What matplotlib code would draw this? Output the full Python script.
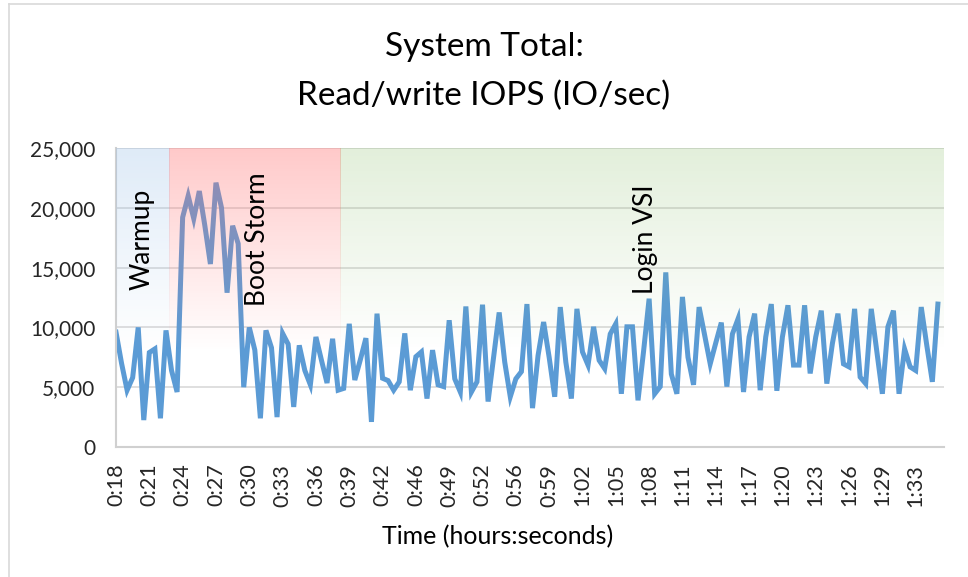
import numpy as np
import matplotlib
matplotlib.use("Agg")
import matplotlib.pyplot as plt
from matplotlib.lines import Line2D
from matplotlib.ticker import FuncFormatter

plt.rcParams['font.family'] = ['Lato', 'DejaVu Sans']

# ---- data ----
iops = [9600, 7000, 4750, 5800, 10000, 2250, 7900, 8200, 2400, 9750,
        6400, 4600, 19200, 21000, 19100, 21400, 18500, 15300, 22100, 20000,
        12900, 18500, 17000, 5000, 10000, 8100, 2400, 9750, 8300, 2500,
        9500, 8600, 3350, 8500, 6400, 5200, 9200, 7250, 5350, 9050,
        4750, 4900, 10300, 5600, 7300, 9100, 2100, 11150, 5750, 5550,
        4750, 5450, 9500, 4750, 7550, 7950, 4050, 8100, 5200, 5050,
        10600, 5700, 4600, 11750, 4600, 5450, 11900, 3800, 7500, 11250,
        7100, 4200, 5700, 6300, 11950, 3250, 7650, 10450, 7500, 4200,
        11700, 7100, 4050, 11550, 7950, 6850, 10050, 7250, 6550, 9450,
        10300, 4450, 10050, 10050, 3900, 8000, 12400, 4450, 5050, 14600,
        6100, 4450, 12550, 7500, 5200, 11700, 9350, 6950, 8700, 10400,
        5050, 9450, 10700, 4600, 9200, 11150, 4750, 9200, 11950, 4700,
        9200, 11850, 6850, 6850, 11850, 6150, 9200, 11400, 5300, 8650,
        11150, 6950, 6700, 11550, 5850, 5300, 11550, 8000, 4450, 10050,
        11400, 4450, 8200, 6700, 6400, 11700, 8500, 5450, 11950]

tick_labels = ["0:18", "0:21", "0:24", "0:27", "0:30", "0:33", "0:36", "0:39",
               "0:42", "0:46", "0:49", "0:52", "0:56", "0:59", "1:02", "1:05",
               "1:08", "1:11", "1:14", "1:17", "1:20", "1:23", "1:26", "1:29",
               "1:33"]
label_every = 6

phases = ["Warmup", "Boot Storm", "Login VSI"]
phase_start = [0, 9.55, 40.4]
phase_end = [9.55, 40.4, 149.0]
phase_label_x = [4.7, 25.5, 95.3]

# ---- figure ----
W, H = 968, 577
fig = plt.figure(figsize=(W / 100, H / 100), dpi=100)
ax = fig.add_axes([116 / W, 1 - 447 / H, (944 - 116) / W, (447 - 148) / H])

x = np.arange(len(iops))
ax.plot(x, iops, color='#5b9bd5', lw=3.6, solid_joinstyle='miter', zorder=2)

# gradient phase bands (semi-transparent overlays)
band_cols = [(0.55, 0.72, 0.90, 0.28), (1.0, 0.45, 0.45, 0.38), (0.50, 0.72, 0.36, 0.22)]
ny = 200
yy = np.linspace(0, 25000, ny)
fade = np.clip((yy - 8000) / 17000, 0, 1)[::-1]
for (r, g, b, a), s, e in zip(band_cols, phase_start, phase_end):
    img = np.zeros((ny, 2, 4))
    img[..., 0] = r
    img[..., 1] = g
    img[..., 2] = b
    img[..., 3] = (a * fade)[:, None]
    ax.imshow(img, extent=[s, e, 0, 25000], aspect='auto', zorder=3,
              interpolation='bilinear')

for name, px in zip(phases, phase_label_x):
    ax.text(px, 17400, name, rotation=90, ha='center', va='center',
            fontsize=19, color='black', zorder=5)

ax.set_xlim(0, 149.1)
ax.set_ylim(0, 25000)
ax.set_yticks(np.arange(0, 25001, 5000))
ax.yaxis.set_major_formatter(FuncFormatter(lambda v, p: f"{int(v):,}"))
ax.set_xticks(np.arange(0, len(tick_labels) * label_every, label_every))
ax.set_xticklabels(tick_labels, rotation=90)
ax.tick_params(axis='both', length=0, colors='#262626')
ax.tick_params(axis='x', pad=12, labelsize=15.5)
ax.tick_params(axis='y', pad=15, labelsize=15)
ax.grid(axis='y', color='#d9d9d9', lw=1.2, zorder=0)
ax.set_axisbelow(True)
for side in ['top', 'right']:
    ax.spines[side].set_visible(False)
for side in ['left', 'bottom']:
    ax.spines[side].set_color('#d0d0d0')
    ax.spines[side].set_linewidth(1.5)

fig.text(0.5, 1 - 47 / H, "System Total:", ha='center', va='center', fontsize=24)
fig.text(0.5, 1 - 96 / H, "Read/write IOPS (IO/sec)", ha='center', va='center', fontsize=24)
fig.text(498 / W, 1 - 537 / H, "Time (hours:seconds)", ha='center', va='center',
         fontsize=18, color='black')

# chart border
fig.add_artist(Line2D([9 / W, 9 / W], [0, 1 - 4 / H], color='#d9d9d9', lw=1.2))
fig.add_artist(Line2D([9 / W, 1], [1 - 4 / H, 1 - 4 / H], color='#d9d9d9', lw=1.2))

fig.savefig("out.png", dpi=100, facecolor='white')
